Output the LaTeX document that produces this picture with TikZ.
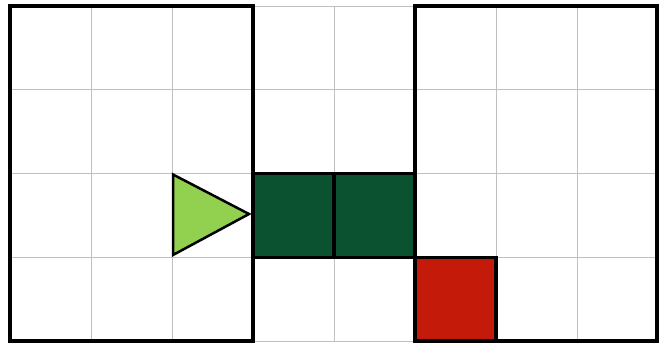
\documentclass[tikz,border=0pt]{standalone}
\definecolor{gridgray}{HTML}{C0C0C0}
\definecolor{darkgrn}{HTML}{0B5230}
\definecolor{lightgrn}{HTML}{92D050}
\definecolor{wallred}{HTML}{C41A0A}
\tikzset{
  wall/.style={line width=4pt, line cap=rect},
  gridline/.style={gridgray, line width=1pt},
  block/.style={draw=black, line width=3.5pt},
  agent/.style={draw=black, line width=2.5pt, fill=lightgrn, line join=miter},
}
\begin{document}
\begin{tikzpicture}[x=1pt,y=-1pt]
\useasboundingbox (0,0) rectangle (662,343);
% grid
\foreach \gx in {91,172,253,334,415,496,577} \draw[gridline] (\gx,6) -- (\gx,341);
\foreach \gy in {89.75,173.5,257.25} \draw[gridline] (10,\gy) -- (657,\gy);
\draw[gridline] (10,6) -- (657,6);
\draw[gridline] (10,341) -- (657,341);
% blocks
\draw[block, fill=darkgrn] (253,173.5) rectangle (334,257.25);
\draw[block, fill=darkgrn] (334,173.5) rectangle (415,257.25);
\draw[block, fill=wallred] (415,257.25) rectangle (496,341);
% agent
\draw[agent] (173,174.5) -- (249,214) -- (173,255) -- cycle;
% walls
\draw[wall] (253,173.5) -- (253,6) -- (10,6) -- (10,341) -- (253,341) -- (253,257.25);
\draw[wall] (415,173.5) -- (415,6) -- (657,6) -- (657,341) -- (415,341) -- (415,257.25);
\end{tikzpicture}
\end{document}
